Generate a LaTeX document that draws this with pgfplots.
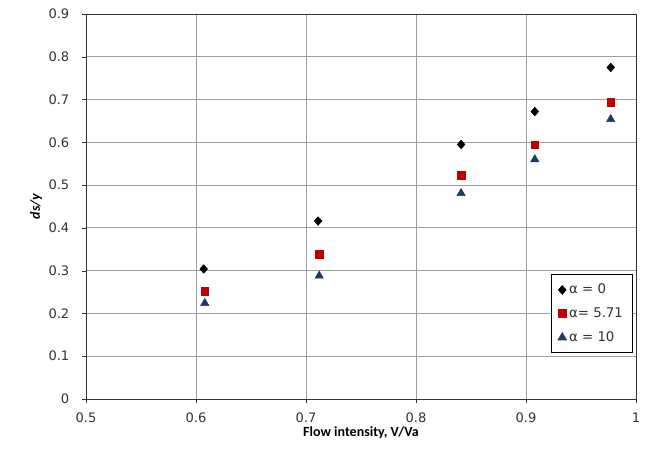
\documentclass[border=0pt]{standalone}
\usepackage{pgfplots}
\pgfplotsset{compat=1.18}
\usepackage{fontspec}
\setmainfont{Carlito}
\newfontfamily\tickfont{DejaVu Sans}
\usetikzlibrary{calc}
\definecolor{myred}{HTML}{C00000}
\definecolor{myblue}{HTML}{1F3A60}
\definecolor{ticktext}{HTML}{333333}
\begin{document}
\begin{tikzpicture}
\begin{axis}[
  scale only axis,
  width=412.5pt, height=288.75pt,
  xmin=0.5, xmax=1, ymin=0, ymax=0.9,
  xtick={0.5,0.6,...,1.0},
  ytick={0,0.1,...,0.9},
  xticklabels={0.5,0.6,0.7,0.8,0.9,1},
  yticklabels={0,0.1,0.2,0.3,0.4,0.5,0.6,0.7,0.8,0.9},
  grid=major,
  grid style={draw=gray!75, line width=0.6pt},
  axis line style={draw=black!80, line width=0.6pt},
  tick style={draw=black!80},
  major tick length=3pt,
  tick align=outside,
  xtick pos=bottom, ytick pos=left,
  ticklabel style={font=\tickfont\fontsize{9.8}{11}\selectfont, text=ticktext},
  yticklabel style={xshift=-6pt},
  xticklabel style={yshift=-4pt},
  /pgf/number format/assume math mode=true,
  xlabel={\bfseries Flow intensity, V/Va},
  ylabel={\bfseries\itshape ds/y},
  xlabel style={font=\fontsize{10.5}{12}\selectfont, yshift=4pt},
  ylabel style={font=\fontsize{10.5}{12}\selectfont, yshift=-2pt},
  legend style={at={(0.994,0.324)}, anchor=north east, draw=black, line width=0.6pt,
    font=\tickfont\fontsize{10}{12}\selectfont, text=ticktext, row sep=5pt, inner xsep=5pt, inner ysep=5pt},
  legend cell align=left,
  legend image code/.code={\draw[#1] plot coordinates {(0.15cm,0cm)};},
]
\addplot[only marks, mark=diamond*, mark size=3.2pt, mark options={xscale=1.2}, color=black] coordinates {
 (0.607,0.304) (0.711,0.416) (0.841,0.595) (0.908,0.672) (0.977,0.775)};
\addlegendentry{α = 0}
\addplot[only marks, mark=square*, mark size=2.9pt, color=myred] coordinates {
 (0.608,0.252) (0.712,0.339) (0.841,0.523) (0.908,0.594) (0.977,0.694)};
\addlegendentry{α= 5.71}
\addplot[only marks, mark=triangle*, mark size=3.6pt, color=myblue] coordinates {
 (0.608,0.224) (0.712,0.288) (0.841,0.481) (0.908,0.560) (0.977,0.654)};
\addlegendentry{α = 10}
\end{axis}
\pgfresetboundingbox
\path ($(current axis.south west)+(-64.5pt,-39.75pt)$) rectangle ($(current axis.north east)+(9.75pt,10.5pt)$);
\end{tikzpicture}
\end{document}
